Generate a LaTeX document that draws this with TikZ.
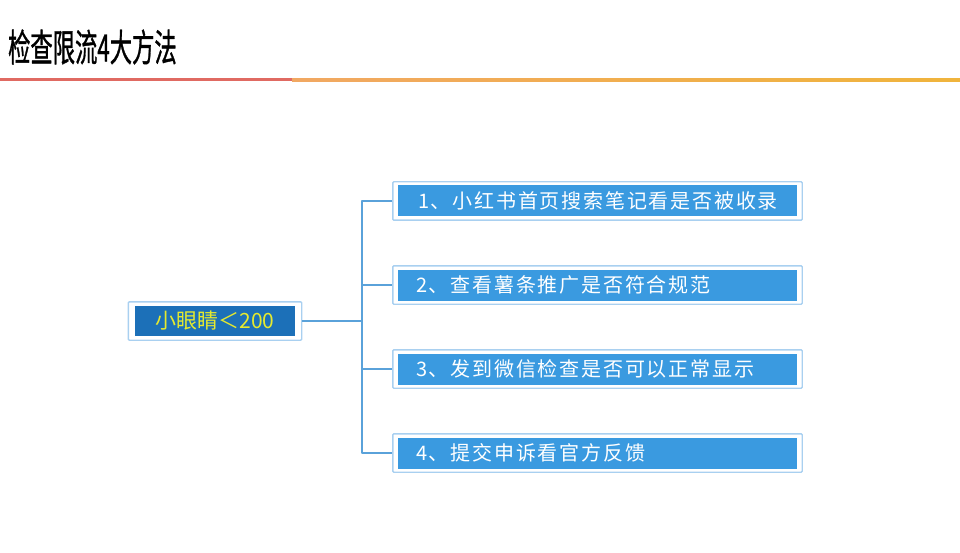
\documentclass[tikz,border=0pt]{standalone}
\usepackage{fontspec}
\setmainfont{Noto Sans CJK SC}
\newfontfamily\cjk[LetterSpace=9]{Noto Sans CJK SC}
\newfontfamily\titlefont[FakeBold=1.2]{Noto Sans CJK SC}
\usetikzlibrary{fit}
\definecolor{itemblue}{HTML}{3A9AE0}
\definecolor{rootblue}{HTML}{1C70B8}
\definecolor{edgeblue}{HTML}{A9D0F0}
\definecolor{linkblue}{HTML}{5AA2DA}
\definecolor{rootyellow}{HTML}{E6EA2E}
\definecolor{barred}{HTML}{E06A62}
\definecolor{barorange}{HTML}{F1A862}
\definecolor{baryellow}{HTML}{F0B43C}
\tikzset{
  rootbox/.style={fill=rootblue, minimum width=160pt, minimum height=30pt, inner sep=0pt,
    text=rootyellow, font=\fontsize{21}{21}\selectfont},
  itembox/.style={fill=itemblue, minimum height=31pt, text width=363pt, inner xsep=18pt, inner ysep=0pt,
    align=left, text=white, font=\cjk\fontsize{20}{20}\selectfont},
  frame/.style={draw=edgeblue, line width=1.4pt, rounded corners=1pt, inner xsep=5pt, inner ysep=3.5pt},
  link/.style={draw=linkblue, line width=1.2pt}
}
\begin{document}
\begin{tikzpicture}[x=1pt, y=1pt, line join=round]
	\useasboundingbox (0,0) rectangle (960,-553);
	% title and bar
	\node[anchor=west, inner sep=0pt, xscale=0.62, yscale=1.05, font=\titlefont\fontsize{36}{36}\selectfont] (title) at (8,-47) {检查限流4大方法};
	\fill[barred] (0,-78.5) rectangle (292,-81.5);
	\shade[left color=barorange, right color=baryellow] (292,-78.5) rectangle (960,-81.5);
	% root
	\node[rootbox] (root) at (215,-321) {小眼睛＜200};
	\node[frame, inner xsep=6.5pt, inner ysep=4pt, fit=(root)] (rootf) {};
	\coordinate (hub) at (362,-321);
	% items
	\node[itembox] (item1) at (597.5,-201) {\hspace{2pt}1、小红书首页搜索笔记看是否被收录};
	\node[itembox] (item2) at (597.5,-285) {2、查看薯条推广是否符合规范};
	\node[itembox] (item3) at (597.5,-369) {3、发到微信检查是否可以正常显示};
	\node[itembox] (item4) at (597.5,-453) {4、提交申诉看官方反馈};
	\foreach \i in {1,...,4}
		\node[frame, fit=(item\i)] (item\i f) {};
	% connectors
	\draw[link] (rootf.east) -- (hub);
	\foreach \i in {1,...,4}
		\draw[link] (hub) |- (item\i f.west);
\end{tikzpicture}
\end{document}
